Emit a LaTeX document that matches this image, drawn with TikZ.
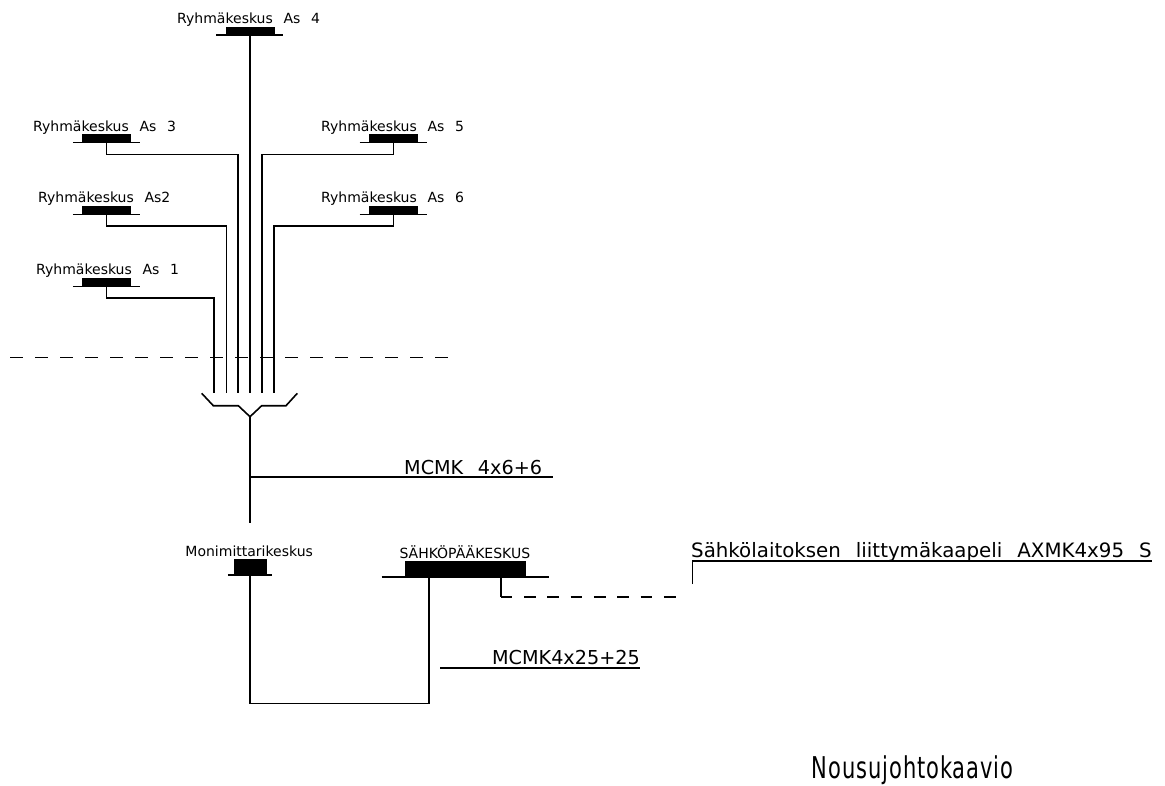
\documentclass[tikz,border=0pt]{standalone}
\usepackage{fontspec}
\setmainfont{DejaVu Sans}[WordSpace=2.4]
\newfontfamily\titlefont{DejaVu Sans}[FakeStretch=0.7,LetterSpace=3]
\tikzset{
  wire/.style={line width=1.6pt},
  bar/.style={fill=black,inner sep=0pt,minimum width=49pt,minimum height=8.3pt},
  tag/.style={inner sep=0pt,anchor=base west,font=\fontsize{14pt}{16pt}\selectfont},
  cable/.style={inner sep=0pt,anchor=base west,font=\fontsize{19.2pt}{22pt}\selectfont}
}
\begin{document}
\begin{tikzpicture}[x=1pt,y=-1pt]
\useasboundingbox (0,0) rectangle (1165,785);
% group panels
\node[bar] (as4) at (250,30.85) {};
\node[bar] (as3) at (106.5,138.3) {};
\node[bar] (as2) at (106.5,210) {};
\node[bar] (as1) at (106.5,282) {};
\node[bar] (as5) at (393.3,138.3) {};
\node[bar] (as6) at (393.3,210) {};
\draw[wire] (as4.south west) ++(-9,0) -- ++(67,0);
\draw[wire] (as3.south west) ++(-9,0) -- ++(67,0);
\draw[wire] (as2.south west) ++(-9,0) -- ++(67,0);
\draw[wire] (as1.south west) ++(-9,0) -- ++(67,0);
\draw[wire] (as5.south west) ++(-9,0) -- ++(67,0);
\draw[wire] (as6.south west) ++(-9,0) -- ++(67,0);
\node[tag] (t4) at (177,23.3) {Ryhmäkeskus As 4};
\node[tag] (t3) at (33,131) {Ryhmäkeskus As 3};
\node[tag] (t2) at (38,202.7) {Ryhmäkeskus As2};
\node[tag] (t1) at (36,274.3) {Ryhmäkeskus As 1};
\node[tag] (t5) at (321,131) {Ryhmäkeskus As 5};
\node[tag] (t6) at (321,202.7) {Ryhmäkeskus As 6};
% riser ends above the fork
\coordinate (f1) at (213.7,392.7);
\coordinate (f2) at (226.3,392.7);
\coordinate (f3) at (238,392.7);
\coordinate (f4) at (250,392.7);
\coordinate (f5) at (262,392.7);
\coordinate (f6) at (274,392.7);
\draw[wire] (as1.south) -- ++(0,11.7) -| (f1);
\draw[wire] (as2.south) -- ++(0,11.7) -| (f2);
\draw[wire] (as3.south) -- ++(0,11.7) -| (f3);
\draw[wire] (as4.south) -- (f4);
\draw[wire] (as5.south) -- ++(0,11.7) -| (f5);
\draw[wire] (as6.south) -- ++(0,11.7) -| (f6);
% floor line
\coordinate (cutl) at (10,357.3);
\coordinate (cutr) at (455,357.3);
\draw[wire,dash pattern=on 13pt off 12pt] (cutl) -- (cutr);
% fork and trunk
\coordinate (fork) at (250,416.7);
\coordinate (trunkend) at (250,523);
\draw[wire] (201.7,393.3) -- (213.3,405.7) -- (238.3,405.7) -- (fork) -- (261.7,405.7) -- (286,405.7) -- (297.3,393.3);
\draw[wire] (fork) -- (trunkend);
\coordinate (tap1) at (250,476.7);
\coordinate (tap1end) at (553,476.7);
\draw[wire] (tap1) -- (tap1end);
\node[cable] (mcmk1) at (404,474) {MCMK 4x6+6};
% main panels
\node[fill=black,inner sep=0pt,minimum width=33pt,minimum height=16pt] (mmk) at (250,567) {};
\node[fill=black,inner sep=0pt,minimum width=120.7pt,minimum height=15.7pt] (spk) at (465.35,568.85) {};
\draw[wire] (mmk.south west) ++(-5.5,0) -- ++(44,0);
\draw[wire] (spk.south west) ++(-23.3,0) -- ++(167.3,0);
\node[tag,anchor=base] (tmmk) at (249.2,556) {Monimittarikeskus};
\node[tag,anchor=base] (tspk) at (464.85,558) {SÄHKÖPÄÄKESKUS};
\coordinate (bend) at (250,703.3);
\draw[wire] (mmk.south) -- (bend) -| (429,0 |- spk.south);
\coordinate (tap2) at (440,668);
\coordinate (tap2end) at (640,668);
\draw[wire] (tap2) -- (tap2end);
\node[cable,anchor=base east] (mcmk2) at (640,664) {MCMK4x25+25};
% service cable
\coordinate (drop) at (500.7,596.7);
\coordinate (dropend) at (680,596.7);
\draw[wire] (500.7,0 |- spk.south) -- (drop);
\draw[wire,dash pattern=on 11.7pt off 11.6pt] (drop) -- (dropend);
\coordinate (feed) at (692.3,584);
\coordinate (feedend) at (1152,561);
\draw[wire] (feed) |- (feedend);
\node[cable,font=\fontsize{19.8pt}{22pt}\selectfont] (axmk) at (691,557) {Sähkölaitoksen liittymäkaapeli AXMK4x95 S};
\node[inner sep=0pt,anchor=base west,font=\titlefont\fontsize{30pt}{34pt}\selectfont] (title) at (811.7,778) {Nousujohtokaavio};
\end{tikzpicture}
\end{document}
